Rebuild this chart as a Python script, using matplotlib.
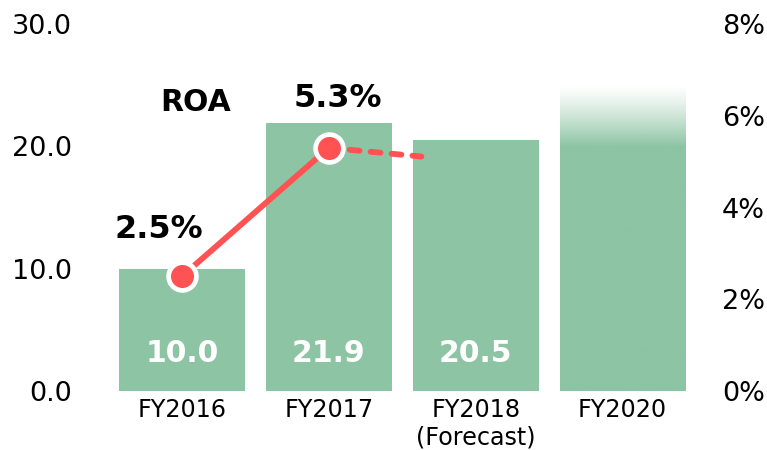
import numpy as np
import matplotlib
matplotlib.use("Agg")
import matplotlib.pyplot as plt
from matplotlib.colors import to_rgb

# ---- data ----
categories = ["FY2016", "FY2017", "FY2018\n(Forecast)", "FY2020"]
bar_values = [10.0, 21.9, 20.5, 25.0]
bar_labels = ["10.0", "21.9", "20.5", ""]
roa_values = [2.5, 5.3]          # FY2016, FY2017 actual
roa_forecast = 5.0               # FY2018 forecast (dashed, drawn partially)
left_ticks = [0, 10, 20, 30]
left_ticklabels = ["0.0", "10.0", "20.0", "30.0"]
right_ticks = [0, 2, 4, 6, 8]
right_ticklabels = ["0%", "2%", "4%", "6%", "8%"]

# ---- style ----
GREEN = "#8DC4A3"
RED = "#FF5252"
FONT = "DejaVu Sans"
plt.rcParams["font.family"] = FONT

fig = plt.figure(figsize=(7.67, 4.5), dpi=100)
ax = fig.add_axes([93.8 / 767, 1 - 391 / 450, (710.7 - 93.8) / 767, (391 - 24) / 450])
ax2 = ax.twinx()

x = np.arange(len(categories))
width = 0.857

bars = ax.bar(x[:3], bar_values[:3], width=width, color=GREEN, zorder=2)

# FY2020 gradient bar
fade_start = 20.0
gbar = ax.bar(x[3], bar_values[3], width=width, color="none", zorder=2)[0]
n = 256
ys = np.linspace(0, bar_values[3], n)
t = np.clip((bar_values[3] - ys) / (bar_values[3] - fade_start), 0, 1)
alpha = t ** 1.2
rgb = to_rgb(GREEN)
img = np.zeros((n, 1, 4))
img[:, 0, :3] = rgb
img[:, 0, 3] = alpha
im = ax.imshow(img, origin="lower", aspect="auto", interpolation="bilinear",
               extent=[x[3] - width / 2, x[3] + width / 2, 0, bar_values[3]], zorder=2)
im.set_clip_path(gbar)

ax.set_xlim(-0.6, 3.6)
ax.set_ylim(0, 30)
ax2.set_ylim(0, 8)

# value labels inside bars
for xi, lab in zip(x, bar_labels):
    if lab:
        ax.text(xi, 3.1, lab, ha="center", va="center", color="white",
                fontsize=21.5, fontweight="bold", zorder=3)

# ROA line
LW = 4.2
ax2.plot(x[:2], roa_values, color=RED, lw=LW, solid_capstyle="round", zorder=4)
frac = 0.63
xe = x[1] + frac * (x[2] - x[1])
ye = roa_values[1] + frac * (roa_forecast - roa_values[1])
dl, = ax2.plot([x[1], xe], [roa_values[1], ye], color=RED, lw=LW, zorder=4,
               dash_capstyle="round")
dl.set_dashes((1.7, 1.9))
ax2.plot(x[:2], roa_values, linestyle="none", marker="o", markersize=20,
         markerfacecolor=RED, markeredgecolor="white", markeredgewidth=3.4, zorder=5)

ax2.annotate(f"{roa_values[0]}%", (x[0], roa_values[0]), xytext=(-17, 34),
             textcoords="offset points", ha="center", va="center",
             fontsize=23, fontweight="bold")
ax2.annotate(f"{roa_values[1]}%", (x[1], roa_values[1]), xytext=(6.5, 35.5),
             textcoords="offset points", ha="center", va="center",
             fontsize=23, fontweight="bold")
ax2.text(0.09, 6.28, "ROA", ha="center", va="center", fontsize=21.5, fontweight="bold")

# axes styling
ax.set_xticks(x)
ax.set_xticklabels(categories, fontsize=17.2, linespacing=1.18)
ax.set_yticks(left_ticks)
ax.set_yticklabels(left_ticklabels, fontsize=19.5)
ax2.set_yticks(right_ticks)
ax2.set_yticklabels(right_ticklabels, fontsize=19.5)
ax.tick_params(axis="x", length=0, pad=5)
ax.tick_params(axis="y", length=0, pad=16)
ax2.tick_params(axis="y", length=0, pad=8)
for a in (ax, ax2):
    for s in a.spines.values():
        s.set_visible(False)
    a.patch.set_visible(False)

fig.savefig("out.png", dpi=100)
